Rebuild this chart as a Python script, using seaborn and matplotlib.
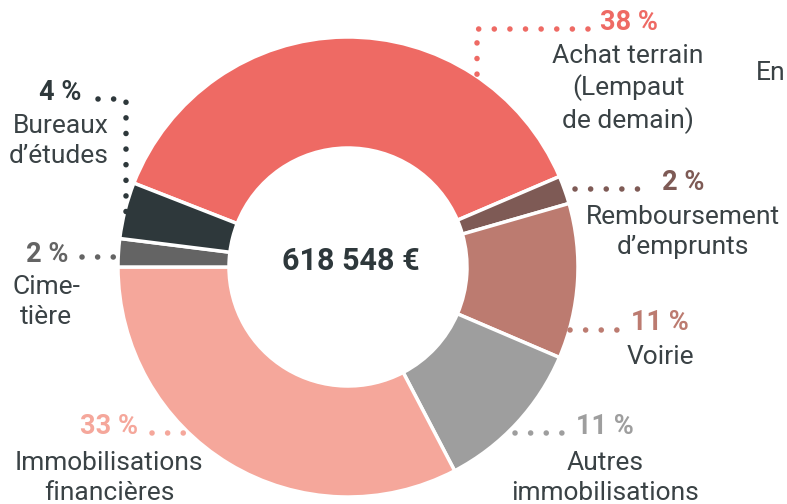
import matplotlib
matplotlib.use("Agg")
import matplotlib.pyplot as plt
import seaborn as sns

# data, clockwise from the top
labels = ["Achat terrain\n(Lempaut\nde demain)", "Remboursement\nd\u2019emprunts", "Voirie",
          "Autres\nimmobilisations", "Immobilisations\nfinanci\u00e8res", "Cime-\nti\u00e8re",
          "Bureaux\nd\u2019\u00e9tudes"]
shares = [38, 2, 11, 11, 33, 2, 4]
colors = ["#EE6A64", "#7E5A55", "#BC7B70", "#9E9E9E", "#F5A79B", "#646464", "#2E383B"]
total_label = "618 548 \u20ac"

sns.set_theme(style="white")
plt.rcParams["font.family"] = ["Roboto", "DejaVu Sans"]
TXT = "#3A4245"
W, H = 787, 504

fig = plt.figure(figsize=(W / 100, H / 100), dpi=100)
ax = fig.add_axes([0, 0, 1, 1])
ax.axis("off")


def Y(y):
    return H - y


cx, cy, r_out, r_in = 348, Y(267), 230, 119
# start so that the Immobilisations / Cimetière boundary sits at 180 deg
start = 180 + sum(shares[:5]) * 360 / sum(shares)
ax.pie(shares, colors=colors, startangle=start, counterclock=False,
       center=(cx, cy), radius=r_out,
       wedgeprops=dict(width=r_out - r_in, edgecolor="white", linewidth=2.5))
ax.set_xlim(0, W)
ax.set_ylim(0, H)
ax.set_aspect("equal")

ax.text(351, Y(261), total_label, ha="center", va="center", fontsize=22,
        fontweight="bold", color="#2E383B")


def dots(xs, ys, c):
    ax.plot(xs, [Y(v) for v in ys], color=c, lw=4, linestyle=(0, (0.01, 2.8)),
            dash_capstyle="round", solid_capstyle="round")


def pct(x, y, s, c, ha):
    ax.text(x, Y(y), f"{s} %", ha=ha, va="center", fontsize=19.5, fontweight="bold", color=c)


def lab(x, y, s, ha="center"):
    ax.text(x, Y(y), s, ha=ha, va="center", fontsize=19, color=TXT, linespacing=1.3)


# Achat terrain
dots([588, 477, 477], [29, 29, 80], colors[0])
pct(600, 23, shares[0], colors[0], "left")
lab(628, 89, labels[0])
# Remboursement
dots([575, 646], [189, 189], colors[1])
pct(662, 182, shares[1], colors[1], "left")
lab(683, 232, labels[1])
# Voirie
dots([570, 619], [330, 330], colors[2])
pct(631, 323, shares[2], colors[2], "left")
lab(660, 357, labels[2])
# Autres immobilisations
dots([515, 569], [433, 433], colors[3])
pct(576, 427, shares[3], colors[3], "left")
lab(605, 478, labels[3])
# Immobilisations financières
dots([152, 188], [433, 433], colors[4])
pct(138, 427, shares[4], colors[4], "right")
lab(109, 478, labels[4])
# Cimetière
dots([82, 115], [257, 257], colors[5])
pct(68, 255, shares[5], colors[5], "right")
lab(46, 302, labels[5])
# Bureaux d'études
dots([98, 126, 126], [99, 99, 212], colors[6])
pct(81, 92, shares[6], colors[6], "right")
lab(109, 141, labels[6], ha="right")

# partly hidden label at the right edge
ax.text(786, Y(73), "En", ha="right", va="center", fontsize=19, color=TXT)

fig.savefig("out.png", dpi=100)
